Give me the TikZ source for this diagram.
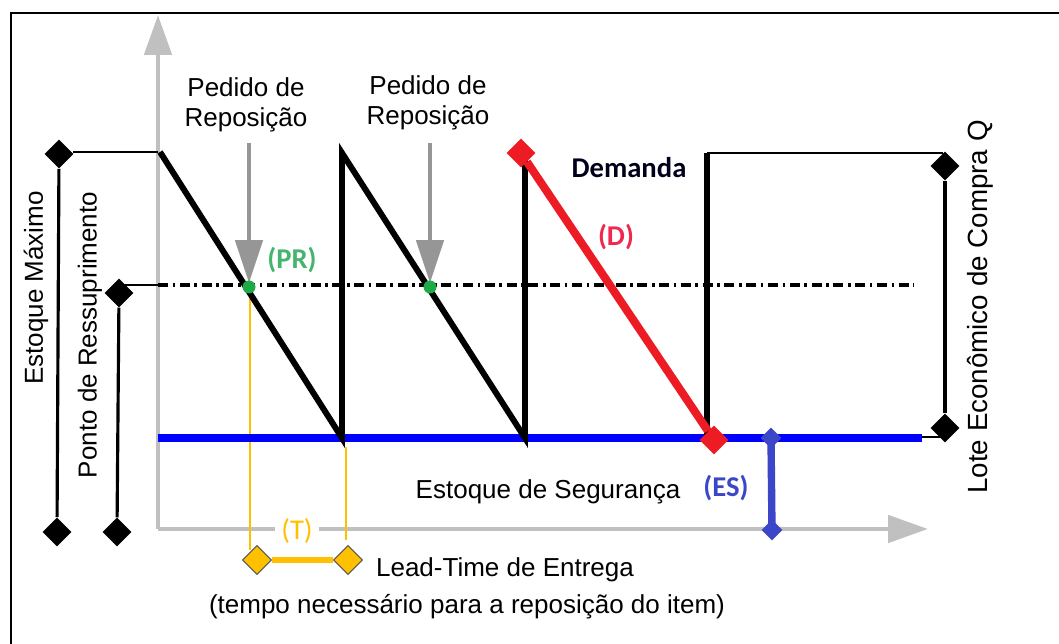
\documentclass[tikz,border=0pt]{standalone}
\usepackage{fontspec}
\setmainfont{Liberation Sans}
\newfontfamily\calib{Carlito}
\usetikzlibrary{arrows.meta,shapes.geometric,positioning}

\definecolor{axisgray}{RGB}{192,192,192}
\definecolor{arrowgray}{RGB}{150,150,150}
\definecolor{prgreen}{RGB}{30,170,70}
\definecolor{labgreen}{RGB}{70,180,110}
\definecolor{dred}{RGB}{237,28,36}
\definecolor{labred}{RGB}{240,40,80}
\definecolor{esblue}{RGB}{0,0,255}
\definecolor{brblue}{RGB}{60,70,200}
\definecolor{ltyellow}{RGB}{255,192,0}

\tikzset{
  txt/.style={font=\fontsize{14.8}{17}\selectfont, inner sep=0pt, align=center},
  lab/.style={font=\calib\bfseries\fontsize{16.3}{19}\selectfont, inner sep=0pt},
  dmd/.style={diamond, inner sep=0pt, minimum size=0.58cm, fill=black},
  smalldmd/.style={diamond, inner sep=0pt, minimum size=0.42cm, fill=brblue},
  axisline/.style={axisgray, line width=2.8pt, -{Triangle[length=0.8cm,width=0.54cm]}},
  repo/.style={arrowgray, line width=2.8pt, -{Triangle[length=0.86cm,width=0.54cm]}},
  tooth/.style={black, line width=3.4pt, line join=miter},
  thinline/.style={black, line width=0.9pt},
  dimline/.style={black, line width=1.8pt},
  leadline/.style={ltyellow, line width=0.7pt}
}

\begin{document}
\begin{tikzpicture}[x=0.02cm, y=-0.02cm]
\useasboundingbox (0,0) rectangle (1059,644);

%% frame
\draw[line width=1.2pt] (11,644) -- (11,13) -- (1059,13);

%% axes
\coordinate (o) at (158,529);
\coordinate (ytop) at (158,15);
\coordinate (xtip) at (928,529);
\draw[axisline] (o) -- (ytop);
\draw[axisline] (o) -- (xtip);

%% lead time lines
\coordinate (lt1a) at (250,287);
\coordinate (lt1b) at (250,550);
\coordinate (lt2a) at (346,447);
\coordinate (lt2b) at (346,540);
\draw[leadline] (lt1a) -- (lt1b);
\draw[leadline] (lt2a) -- (lt2b);
\node[font=\calib\fontsize{16.3}{19}\selectfont, text=ltyellow, fill=white, inner xsep=0.12cm, inner ysep=0pt] (tlab) at (297,531) {(T)};
\node[dmd, fill=ltyellow, draw=black!65, line width=0.6pt] (lta) at (257,560) {};
\node[dmd, fill=ltyellow, draw=black!65, line width=0.6pt] (ltb) at (348,560) {};
\draw[ltyellow, line width=3.4pt] (lta) -- (ltb);

%% reorder level
\coordinate (pr0) at (158,285);
\coordinate (pr1) at (914,285);
\draw[black, line width=2pt, dash pattern=on 5.7pt off 2.6pt on 1.5pt off 2.6pt] (pr0) -- (pr1);

%% safety stock
\coordinate (es0) at (158,438);
\coordinate (es1) at (922,438);
\draw[esblue, line width=4.4pt] (es0) -- (es1);

%% sawtooth
\draw[tooth] (160,152) -- (342,438) -- (342,153) -- (525,438) -- (525,153);
\draw[tooth] (707,438) -- (707,153);
\draw[thinline] (707,153) -- (943,153);

%% demand
\node[dmd, fill=dred] (d0) at (521,153) {};
\node[dmd, fill=dred] (d1) at (714,440) {};
\draw[dred, line width=4.6pt] (d0) -- (d1);

%% safety stock bracket
\node[smalldmd] (esa) at (771,438) {};
\node[smalldmd] (esb) at (772,530) {};
\draw[brblue, line width=4.2pt] (esa.center) -- (esb.center);

%% left dimensions
\node[dmd] (emax0) at (59,154) {};
\node[dmd] (emax1) at (57,532) {};
\draw[dimline] (emax0) -- (emax1);
\draw[thinline] (73,152) -- (158,152);
\node[dmd] (pto0) at (119,293) {};
\node[dmd] (pto1) at (117,532) {};
\draw[dimline] (pto0) -- (pto1);
\draw[thinline] (120,285) -- (158,285);

%% right dimension
\node[dmd] (lote0) at (945,166) {};
\node[dmd] (lote1) at (945,428) {};
\draw[dimline] (lote0) -- (lote1);
\draw[thinline] (922,437) -- (945,437);

%% order points
\foreach \px/\nm in {249/a, 430/b}
  {
    \coordinate (pa\nm) at (\px,143);
    \coordinate (pb\nm) at (\px,283);
    \draw[repo] (pa\nm) -- (pb\nm);
    \fill[prgreen] (\px,287) circle [radius=6.5];
  }

%% labels
\node[txt] (ped1) at (246,105) {Pedido de\\Reposição};
\node[txt] (ped2) at (428,103) {Pedido de\\Reposição};
\node[lab, text=labgreen] (prlab) at (292,260) {(PR)};
\node[lab, text=black!90!blue] (dem) at (629,168) {Demanda};
\node[lab, text=labred] (dlab) at (616,237) {(D)};
\node[txt] (seg) at (548,492) {Estoque de Segurança};
\node[lab, text=brblue] (eslab) at (726,488) {(ES)};
\node[txt] (lead) at (505,570) {Lead-Time de Entrega};
\node[txt] (tempo) at (467,607) {(tempo necessário para a reposição do item)};
\node[txt, rotate=90] (emax) at (36,288) {Estoque Máximo};
\node[txt, rotate=90] (pto) at (90,335) {Ponto de Ressuprimento};
\node[txt, rotate=90, font=\fontsize{15.8}{18}\selectfont] (lote) at (980,307) {Lote Econômico de Compra Q};

\end{tikzpicture}
\end{document}
